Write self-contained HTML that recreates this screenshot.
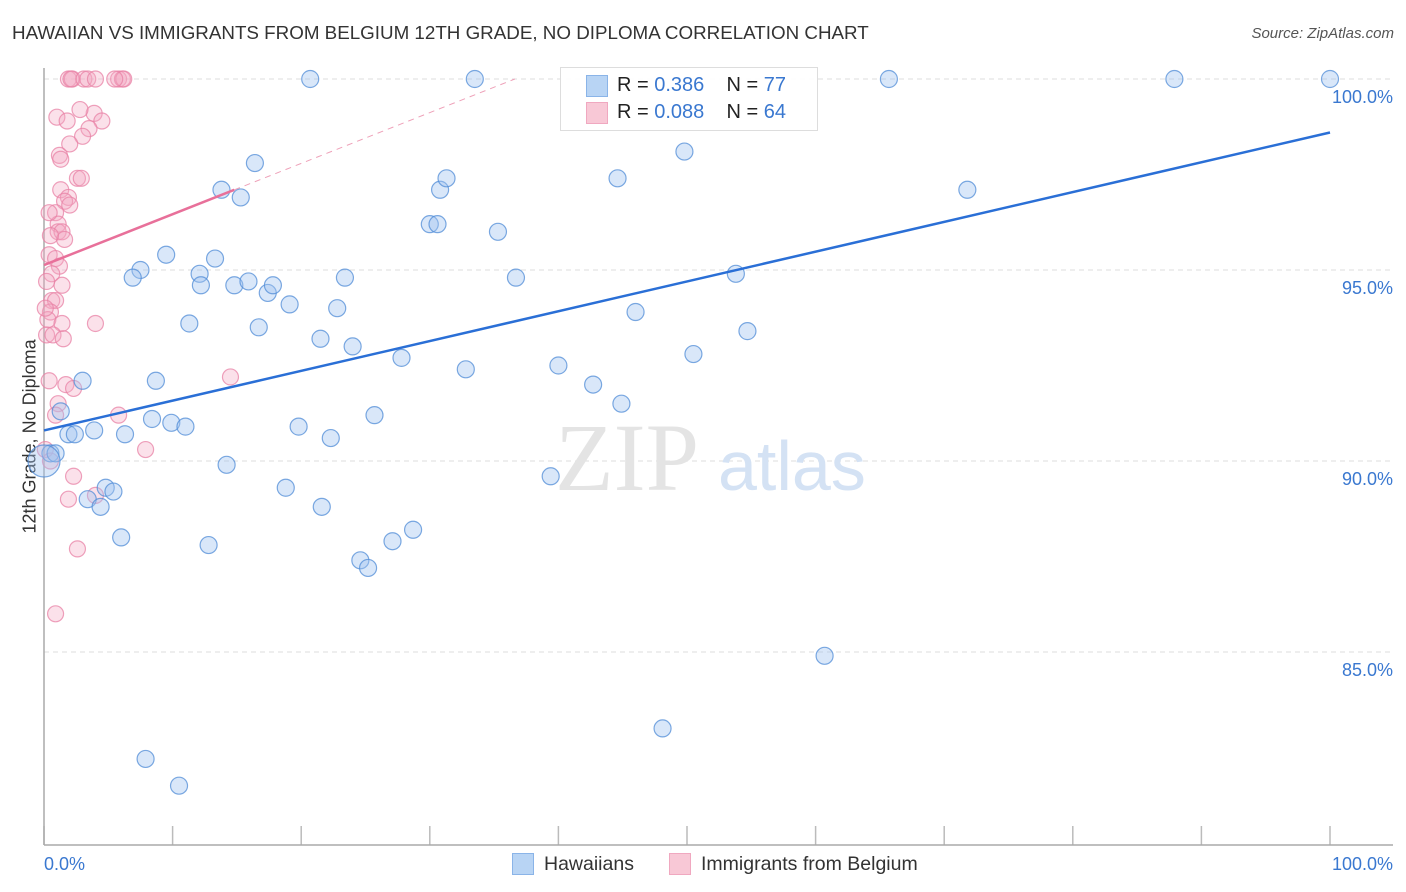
<!DOCTYPE html>
<html><head><meta charset="utf-8"><style>
body{margin:0;background:#fff;font-family:"Liberation Sans",sans-serif;}
#wrap{position:relative;width:1406px;height:892px;overflow:hidden;}
.t{position:absolute;white-space:nowrap;}
</style></head><body>
<div id="wrap">
<div class="t" style="left:12px;top:22px;font-size:18.8px;color:#333;">HAWAIIAN VS IMMIGRANTS FROM BELGIUM 12TH GRADE, NO DIPLOMA CORRELATION CHART</div>
<div class="t" style="right:12px;top:25px;font-size:15px;color:#555;font-style:italic;">Source: ZipAtlas.com</div>
<div class="t" style="left:-50px;top:443px;width:160px;text-align:center;font-size:18px;color:#333;transform:rotate(-90deg);">12th Grade, No Diploma</div>
<svg id="plot" width="1406" height="892" style="position:absolute;left:0;top:0"></svg>
<div class="t" style="left:560px;top:67px;width:256px;height:62px;border:1px solid #ddd;background:rgba(255,255,255,0.9);"></div>
<div class="t" style="left:586px;top:75px;width:20px;height:20px;background:#b8d4f4;border:1px solid #8ab4e8;"></div>
<div class="t" style="left:617px;top:74px;font-size:20px;color:#222;">R = <span style="color:#3a78d0">0.386</span>&nbsp;&nbsp;&nbsp; N = <span style="color:#3a78d0">77</span></div>
<div class="t" style="left:586px;top:102px;width:20px;height:20px;background:#f8c8d6;border:1px solid #f0a8c0;"></div>
<div class="t" style="left:617px;top:101px;font-size:20px;color:#222;">R = <span style="color:#3a78d0">0.088</span>&nbsp;&nbsp;&nbsp; N = <span style="color:#3a78d0">64</span></div>
<div class="t" style="left:512px;top:853px;width:20px;height:20px;background:#b8d4f4;border:1px solid #8ab4e8;"></div>
<div class="t" style="left:544px;top:853px;font-size:19.5px;color:#333;">Hawaiians</div>
<div class="t" style="left:669px;top:853px;width:20px;height:20px;background:#f8c8d6;border:1px solid #f0a8c0;"></div>
<div class="t" style="left:701px;top:853px;font-size:19.5px;color:#333;">Immigrants from Belgium</div>
</div>
<script>
const bx=[20.7,33.5,65.7,87.9,100,49.8,16.4,44.6,13.8,15.3,30.8,31.3,71.8,30.0,30.6,35.3,9.5,13.3,7.5,6.9,12.1,12.2,14.8,15.9,17.4,17.8,19.1,23.4,36.7,53.8,11.3,16.7,22.8,46.0,21.5,24.0,54.7,27.8,50.5,32.8,40.0,3.0,8.7,42.7,44.9,1.3,8.4,9.9,11.0,25.7,1.9,2.4,3.9,6.3,19.8,22.3,0.5,0.9,0,14.2,39.4,18.8,4.8,5.4,3.4,4.4,21.6,28.7,6.0,12.8,27.1,24.6,25.2,60.7,48.1,7.9,10.5];
const by=[100,100,100,100,100,98.1,97.8,97.4,97.1,96.9,97.1,97.4,97.1,96.2,96.2,96.0,95.4,95.3,95.0,94.8,94.9,94.6,94.6,94.7,94.4,94.6,94.1,94.8,94.8,94.9,93.6,93.5,94.0,93.9,93.2,93.0,93.4,92.7,92.8,92.4,92.5,92.1,92.1,92.0,91.5,91.3,91.1,91.0,90.9,91.2,90.7,90.7,90.8,90.7,90.9,90.6,90.2,90.2,90.0,89.9,89.6,89.3,89.3,89.2,89.0,88.8,88.8,88.2,88.0,87.8,87.9,87.4,87.2,84.9,83.0,82.2,81.5];
const px=[1.9,2.2,2.1,3.1,3.4,4.0,5.8,6.1,6.2,5.5,1.0,1.8,3.9,2.8,4.5,3.5,3.0,2.0,1.2,1.3,2.6,2.9,1.3,1.9,1.6,2.0,0.9,1.1,1.1,1.4,1.6,0.5,0.4,0.9,1.2,0.6,1.4,0.6,0.9,0.5,0.3,1.4,4.0,0.2,0.7,1.5,0.4,1.7,2.3,1.1,0.9,5.8,14.5,7.9,2.3,1.9,4.0,2.6,0.9,0.1,0.5,0.2,0.4,0.1];
const py=[100,100,100,100,100,100,100,100,100,100,99.0,98.9,99.1,99.2,98.9,98.7,98.5,98.3,98.0,97.9,97.4,97.4,97.1,96.9,96.8,96.7,96.5,96.2,96.0,96.0,95.8,95.9,95.4,95.3,95.1,94.9,94.6,94.2,94.2,93.9,93.7,93.6,93.6,93.3,93.3,93.2,92.1,92.0,91.9,91.5,91.2,91.2,92.2,90.3,89.6,89.0,89.1,87.7,86.0,90.3,90.0,94.7,96.5,94.0];
const blueTrend=[90.8,98.6];
const pinkTrend=[95.13,0.133];
const yTicks=[100,95,90,85];
const yTickLabels=["100.0%","95.0%","90.0%","85.0%"];
const xTicks=[0,10,20,30,40,50,60,70,80,90,100];

const X=v=>44+v*12.86, Y=v=>79+(100-v)*38.2;
const svg=document.getElementById('plot'), NS='http://www.w3.org/2000/svg';
function mk(t,a){const e=document.createElementNS(NS,t);for(const k in a)e.setAttribute(k,a[k]);svg.appendChild(e);return e;}
yTicks.forEach((v,i)=>{
 const g=mk('line',{x1:44,x2:1393,y1:Y(v),y2:Y(v),stroke:'#ddd','stroke-dasharray':'5,4'});
 
 
 const t=mk('text',{x:1393,y:Y(v)+24,'text-anchor':'end','font-size':18,fill:'#3a78d0','font-family':'Liberation Sans'});
 t.textContent=yTickLabels[i];
 
 
});
xTicks.forEach(v=>{
 const l=mk('line',{x1:X(v),x2:X(v),y1:826,y2:845,stroke:'#bbb','stroke-width':1.5});
 
 
});
let a=mk('line',{x1:44,x2:1393,y1:845,y2:845,stroke:'#aaa','stroke-width':1.5});


a=mk('line',{x1:44,x2:44,y1:68,y2:845,stroke:'#aaa','stroke-width':1.5});


let t=mk('text',{x:44,y:870,'font-size':18,fill:'#3a78d0','font-family':'Liberation Sans'});t.textContent='0.0%';


t=mk('text',{x:1393,y:870,'text-anchor':'end','font-size':18,fill:'#3a78d0','font-family':'Liberation Sans'});t.textContent='100.0%';


t=mk('text',{x:555,y:490,'font-size':96,fill:'#e4e4e4','font-family':'Liberation Serif'});t.textContent='ZIP';


t=mk('text',{x:718,y:490,'font-size':70,fill:'#d4e2f4','font-family':'Liberation Sans'});t.textContent='atlas';


px.forEach((v,i)=>{
 const c=mk('circle',{cx:X(v),cy:Y(py[i]),r:8,fill:'rgba(244,170,195,0.35)',stroke:'rgba(232,130,165,0.75)','stroke-width':1.2});
 
 
});
bx.forEach((v,i)=>{
 const c=mk('circle',{cx:X(v),cy:Y(by[i]),r:(v===0?16:8.5),fill:'rgba(160,195,240,0.4)',stroke:'rgba(80,140,215,0.75)','stroke-width':1.2});
 
 
});
let l=mk('line',{x1:X(0),y1:Y(blueTrend[0]),x2:X(100),y2:Y(blueTrend[1]),stroke:'#2a6fd6','stroke-width':2.5});


const xEnd=(100-pinkTrend[0])/pinkTrend[1];
l=mk('line',{x1:X(14.8),y1:Y(pinkTrend[0]+pinkTrend[1]*14.8),x2:X(xEnd),y2:Y(100),stroke:'#eea0b8','stroke-width':1,'stroke-dasharray':'6,5'});


l=mk('line',{x1:X(0),y1:Y(pinkTrend[0]),x2:X(14.8),y2:Y(pinkTrend[0]+pinkTrend[1]*14.8),stroke:'#e8709a','stroke-width':2.5});


</script>
</body></html>
